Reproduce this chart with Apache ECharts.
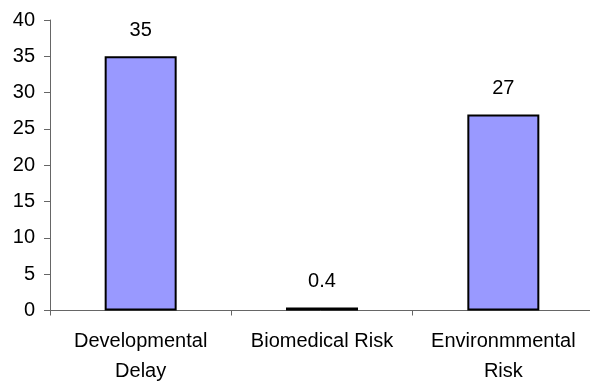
<!DOCTYPE html>
<html><head><meta charset="utf-8">
<script src="https://cdn.jsdelivr.net/npm/echarts@6/dist/echarts.min.js"></script>
<style>html,body{margin:0;padding:0;background:#fff}#c{width:590px;height:381px}</style>
</head><body><div id="c"></div>
<script>
const categories = ["Developmental\nDelay", "Biomedical Risk", "Environmmental\nRisk"];
const values = [35, 0.4, 27];
const yTicks = [0, 5, 10, 15, 20, 25, 30, 35, 40];

const FONT = 'Liberation Sans, Arial, sans-serif';
const chart = echarts.init(document.getElementById('c'));
chart.setOption({
  animation: false,
  grid: {left: 50, right: -4, top: 20, bottom: 70.5, containLabel: false, outerBoundsMode: 'none'},
  xAxis: {
    type: 'category', data: categories,
    axisLine: {lineStyle: {color: '#666', width: 1}},
    axisTick: {show: true, alignWithLabel: false, length: 5, lineStyle: {color: '#666'}},
    axisLabel: {color: '#000', fontSize: 20, fontFamily: FONT, margin: 16, lineHeight: 30, interval: 0}
  },
  yAxis: {
    type: 'value', min: 0, max: 40, interval: 5,
    axisLine: {show: true, lineStyle: {color: '#666', width: 1}},
    axisTick: {show: true, length: 6, lineStyle: {color: '#666'}},
    splitLine: {show: false},
    axisLabel: {color: '#000', fontSize: 20, fontFamily: FONT, margin: 15,
      formatter: v => yTicks.includes(v) ? String(v) : ''}
  },
  series: [{
    type: 'bar', data: values, barWidth: 72,
    itemStyle: {color: '#9999ff', borderColor: '#000', borderWidth: 2},
    label: {show: true, position: 'top', distance: 16, color: '#000', fontSize: 20, fontFamily: FONT}
  }]
});
</script></body></html>
